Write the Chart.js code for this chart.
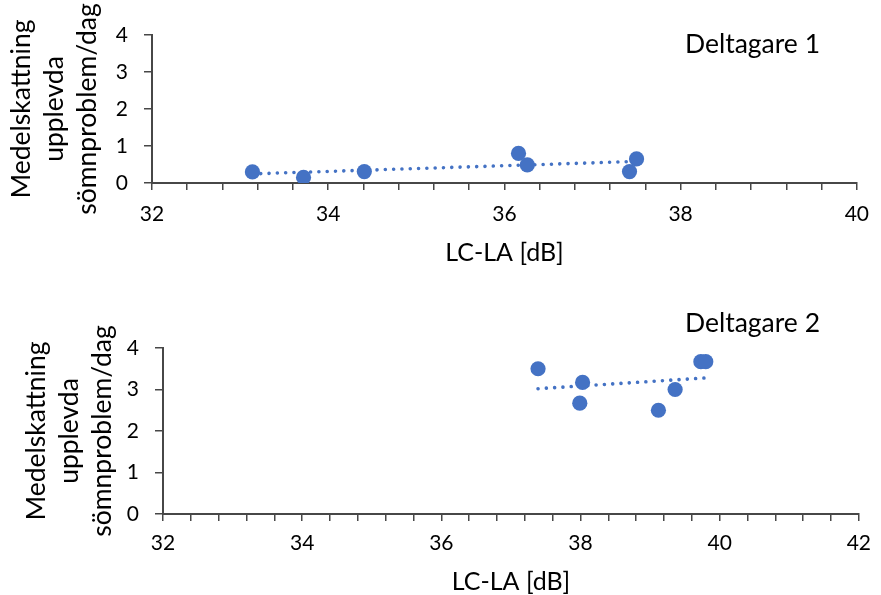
<!DOCTYPE html>
<html>
<head>
<meta charset="utf-8">
<script src="https://cdn.jsdelivr.net/npm/chart.js@4"></script>
<style>
  body { margin: 0; background: #fff; }
  .box { position: absolute; left: 0; width: 881px; }
  #box1 { top: 0; height: 280px; }
  #box2 { top: 290px; height: 305px; }
</style>
</head>
<body>
<div class="box" id="box1"><canvas id="chart1"></canvas></div>
<div class="box" id="box2"><canvas id="chart2"></canvas></div>
<script>
// LC-LA level per night and mean sleep problem rating, one pair of lists per participant
const p1Level = [33.14, 33.72, 34.41, 36.16, 36.26, 37.42, 37.50];
const p1Sleep = [0.30, 0.15, 0.31, 0.80, 0.49, 0.31, 0.65];
const p2Level = [37.39, 38.03, 37.99, 39.12, 39.36, 39.73, 39.80];
const p2Sleep = [3.50, 3.17, 2.67, 2.50, 3.00, 3.67, 3.67];

const yTitle = ['Medelskattning', 'upplevda', 'sömnproblem/dag'];
const xTitle = 'LC-LA [dB]';
const FONT = 'Lato, "Open Sans", sans-serif';
const BLUE = '#4472C4';
const AXIS = '#474747';

// least squares line over the measured range
function trend(xs, ys) {
  const n = xs.length;
  const mx = xs.reduce((a, b) => a + b, 0) / n;
  const my = ys.reduce((a, b) => a + b, 0) / n;
  let sxy = 0, sxx = 0;
  xs.forEach((x, i) => { sxy += (x - mx) * (ys[i] - my); sxx += (x - mx) * (x - mx); });
  const k = sxy / sxx;
  const lo = Math.min(...xs), hi = Math.max(...xs);
  return [{ x: lo, y: my + k * (lo - mx) }, { x: hi, y: my + k * (hi - mx) }];
}

const cornerText = {
  id: 'cornerText',
  afterDraw(chart, args, opts) {
    const ctx = chart.ctx;
    ctx.save();
    ctx.font = opts.font;
    ctx.fillStyle = '#000';
    ctx.textAlign = 'right';
    ctx.textBaseline = 'alphabetic';
    ctx.fillText(opts.text, opts.x, opts.y);
    ctx.restore();
  }
};

function makeChart(id, xs, ys, s) {
  const points = xs.map((x, i) => ({ x: x, y: ys[i] }));
  return new Chart(document.getElementById(id), {
    type: 'scatter',
    data: {
      datasets: [
        {
          data: points,
          backgroundColor: BLUE,
          borderColor: BLUE,
          borderWidth: 0,
          pointRadius: 7.6,
          pointHoverRadius: 7.6
        },
        {
          type: 'line',
          data: trend(xs, ys),
          showLine: true,
          borderColor: BLUE,
          borderWidth: 3.6,
          borderDash: [0.01, 8.3],
          borderCapStyle: 'round',
          pointRadius: 0,
          fill: false
        }
      ]
    },
    options: {
      responsive: true,
      maintainAspectRatio: false,
      animation: false,
      layout: { padding: { top: s.top, right: s.right, left: 0, bottom: 0 } },
      plugins: {
        legend: { display: false },
        tooltip: { enabled: false },
        cornerText: { text: s.label, x: 820, y: s.labelY, font: '26.5px ' + FONT }
      },
      scales: {
        x: {
          type: 'linear',
          min: 32,
          max: s.xMax,
          afterFit: (sc) => { sc.height = s.xHeight; },
          border: { color: AXIS, width: 2 },
          grid: { drawOnChartArea: false, color: AXIS, lineWidth: 1.5, tickLength: 7 },
          ticks: {
            stepSize: 0.4,
            autoSkip: false,
            maxRotation: 0,
            padding: s.xPad,
            color: '#000',
            font: { family: FONT, size: 21 },
            callback: (v) => Math.abs(v / 2 - Math.round(v / 2)) < 1e-6 ? v : ''
          },
          title: {
            display: true,
            text: xTitle,
            color: '#000',
            font: { family: FONT, size: 25, lineHeight: 1 },
            padding: { top: 0, bottom: s.xTitlePad }
          }
        },
        y: {
          min: 0,
          max: 4,
          afterFit: (sc) => { sc.width = s.yWidth; },
          border: { color: AXIS, width: 2 },
          grid: { drawOnChartArea: false, color: AXIS, lineWidth: 1.5, tickLength: 8 },
          ticks: {
            stepSize: 0.5,
            padding: 16,
            color: '#000',
            font: { family: FONT, size: 21 },
            callback: (v) => Number.isInteger(v) ? v : ''
          },
          title: {
            display: true,
            text: yTitle,
            color: '#000',
            font: { family: FONT, size: 26.5, lineHeight: 1.25 },
            padding: { top: s.yTitlePad, bottom: 0 }
          }
        }
      }
    },
    plugins: [cornerText]
  });
}

makeChart('chart1', p1Level, p1Sleep, {
  top: 35, right: 21, xMax: 40, xHeight: 97, yWidth: 152,
  xPad: 12, xTitlePad: 14.5, yTitlePad: 5,
  label: 'Deltagare 1', labelY: 53
});

makeChart('chart2', p2Level, p2Sleep, {
  top: 58, right: 14, xMax: 42, xHeight: 81, yWidth: 163,
  xPad: 10, xTitlePad: 0.5, yTitlePad: 20,
  label: 'Deltagare 2', labelY: 42
});
</script>
</body>
</html>
